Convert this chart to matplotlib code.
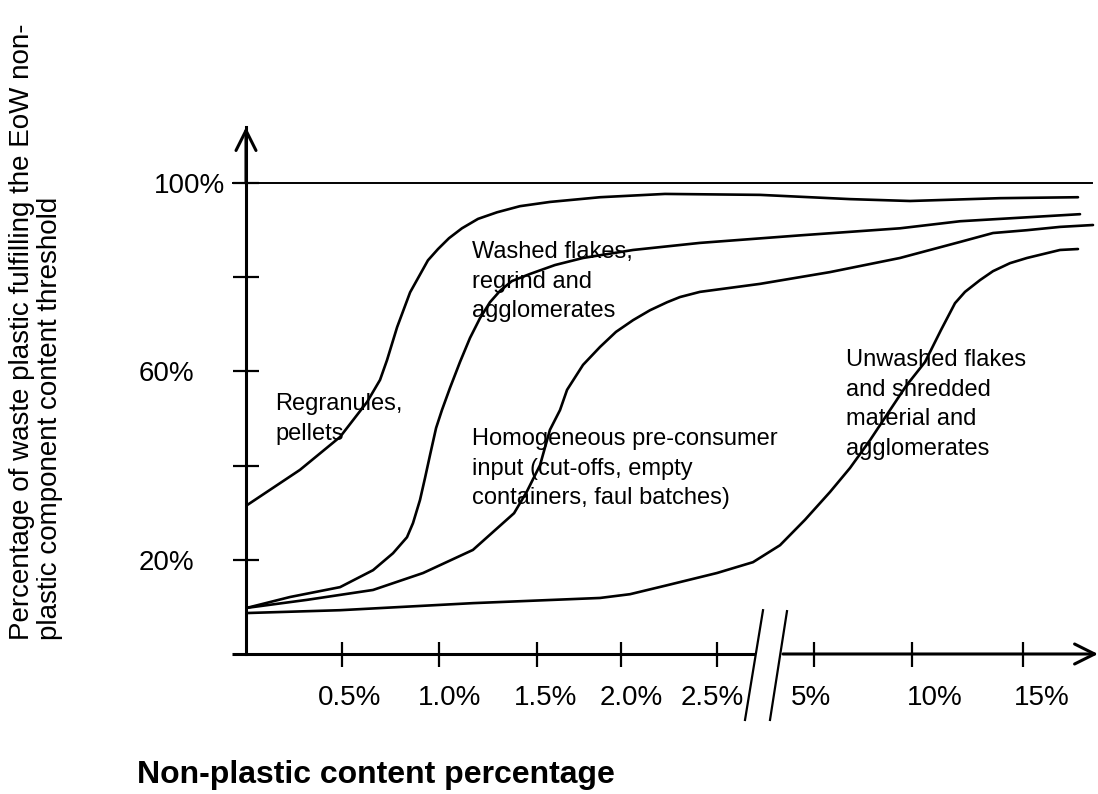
import numpy as np
import matplotlib
matplotlib.use("Agg")
import matplotlib.pyplot as plt
from matplotlib import transforms
from matplotlib.ticker import NullLocator

plt.rcParams['font.family'] = ['Liberation Sans', 'DejaVu Sans']

# ---- data (non-plastic content % -> % of waste fulfilling threshold) ----
regranules_x = [0.005, 0.281, 0.490, 0.629, 0.696, 0.732, 0.784, 0.851, 0.943, 0.995,
                1.051, 1.117, 1.199, 1.296, 1.413, 1.577, 1.875, 2.229, 3.608, 6.837,
                9.898, 13.964, 17.477]
regranules_y = [31.6, 39.1, 46.1, 53.5, 58.2, 62.4, 69.4, 76.8, 83.6, 86.0,
                88.3, 90.4, 92.4, 93.8, 95.1, 96.0, 97.0, 97.7, 97.5, 96.6,
                96.2, 96.8, 97.0]

washed_x = [0.005, 0.229, 0.490, 0.660, 0.763, 0.835, 0.866, 0.902, 0.928, 0.954,
            0.985, 1.015, 1.056, 1.107, 1.158, 1.209, 1.260, 1.311, 1.372, 1.464,
            1.607, 1.774, 2.063, 2.411, 4.639, 9.388, 12.162, 17.568]
washed_y = [9.8, 12.1, 14.2, 17.8, 21.4, 24.8, 27.8, 32.7, 37.4, 42.3,
            48.0, 51.8, 56.5, 62.0, 67.1, 71.3, 74.7, 77.1, 79.2, 80.7,
            82.6, 84.1, 85.8, 87.3, 88.9, 90.4, 91.9, 93.4]

homog_x = [0.005, 0.318, 0.660, 0.918, 1.173, 1.383, 1.447, 1.518, 1.577, 1.637,
           1.679, 1.774, 1.875, 1.970, 2.063, 2.151, 2.240, 2.307, 2.411, 3.608,
           5.816, 9.388, 12.162, 13.649, 15.180, 16.667, 18.153]
homog_y = [9.8, 11.5, 13.6, 17.2, 22.1, 29.9, 34.4, 40.1, 47.6, 51.8,
           56.1, 61.4, 65.2, 68.4, 70.9, 73.0, 74.7, 75.8, 76.9, 78.6,
           81.1, 84.1, 87.5, 89.4, 90.0, 90.7, 91.1]

unwashed_x = [0.005, 0.490, 1.173, 1.875, 2.047, 2.240, 2.5, 3.428, 4.124, 4.768,
              5.816, 6.837, 7.857, 8.878, 9.694, 10.586, 11.306, 11.937, 12.387,
              13.063, 13.649, 14.414, 15.180, 16.667, 17.477]
unwashed_y = [8.7, 9.3, 10.8, 11.9, 12.7, 14.6, 17.2, 19.5, 23.1, 28.5,
              34.4, 39.5, 45.4, 51.8, 56.9, 62.0, 68.8, 74.5, 76.9,
              79.4, 81.3, 83.0, 84.1, 85.8, 86.0]

x_ticks = [0.5, 1.0, 1.5, 2.0, 2.5, 5, 10, 15]
x_labels = ['0.5%', '1.0%', '1.5%', '2.0%', '2.5%', '5%', '10%', '15%']
y_ticks = [20, 60, 100]
y_labels = ['20%', '60%', '100%']
y_minor = [40, 80]

# broken x axis: piecewise mapping of % to drawing position
pct_knots = np.array([-1, 0, 0.5, 1.0, 1.5, 2.0, 2.5, 5, 10, 15, 30])
pos_knots = np.array([-192, 0, 96, 193, 291, 375, 471, 568, 666, 777, 1110])


def fwd(x):
    return np.interp(x, pct_knots, pos_knots)


def inv(p):
    return np.interp(p, pos_knots, pct_knots)


W, H = 1098, 794
fig = plt.figure(figsize=(W / 100, H / 100), dpi=100)
ax = fig.add_axes([232 / W, 140 / H, 866 / W, 534 / H])
ax.set_xscale('function', functions=(fwd, inv))
xmin, xmax = float(inv(-14)), float(inv(852))
ax.set_xlim(xmin, xmax)
ax.set_ylim(0, 113.4)

for s in ['top', 'right', 'bottom']:
    ax.spines[s].set_visible(False)
ax.spines['left'].set_position(('data', 0))
ax.spines['left'].set_bounds(0, 111.9)
ax.spines['left'].set_linewidth(2.2)

ax.set_xticks(x_ticks, x_labels)
ax.xaxis.set_minor_locator(NullLocator())
ax.set_yticks(y_ticks, y_labels)
ax.set_yticks(y_minor, minor=True)
ax.tick_params(axis='x', direction='inout', length=18, width=1.6, pad=13, labelsize=20)
ax.tick_params(axis='y', which='both', direction='inout', length=19, width=1.6, pad=28, labelsize=20)

# labels in the original are not quite centred on their ticks
x_shift = [8, 11, 9, 10, -5, -3, 23, 19]
for lab, dx in zip(ax.get_xticklabels(), x_shift):
    lab.set_transform(lab.get_transform() + transforms.ScaledTranslation(dx / 100, 0, fig.dpi_scale_trans))
lab = ax.get_yticklabels()[2]
lab.set_transform(lab.get_transform() + transforms.ScaledTranslation(0.31, 0, fig.dpi_scale_trans))

# axes lines with arrows
arr = dict(arrowstyle='->', lw=2.2, mutation_scale=36, shrinkA=0, shrinkB=0, color='black')
ax.annotate('', xy=(0, 111.9), xytext=(0, 100), arrowprops=arr, annotation_clip=False)
brk_lo, brk_hi = 3.479, 4.201
ax.plot([xmin, brk_lo], [0, 0], color='black', lw=2.2, clip_on=False, solid_capstyle='butt')
ax.annotate('', xy=(1, 0), xycoords='axes fraction', xytext=(brk_hi, 0), textcoords='data',
            arrowprops=arr, annotation_clip=False)
# break marks
ax.plot([3.222, 3.686], [-14.0, 9.3], color='black', lw=1.6, clip_on=False)
ax.plot([3.866, 4.304], [-14.0, 9.1], color='black', lw=1.6, clip_on=False)

ax.axhline(100, xmin=0, xmax=(1092 - 232) / 866, color='black', lw=1.4)

for xs, ys in [(regranules_x, regranules_y), (washed_x, washed_y),
               (homog_x, homog_y), (unwashed_x, unwashed_y)]:
    ax.plot(xs, ys, color='black', lw=1.9, clip_on=False,
            solid_capstyle='round', solid_joinstyle='round')


def px(x, y):
    return x / W, 1 - y / H


notes = [
    (275, 393, 'Regranules,\npellets'),
    (472, 241, 'Washed flakes,\nregrind and\nagglomerates'),
    (472, 428, 'Homogeneous pre-consumer\ninput (cut-offs, empty\ncontainers, faul batches)'),
    (846, 349, 'Unwashed flakes\nand shredded\nmaterial and\nagglomerates'),
]
for x, y, t in notes:
    fig.text(*px(x, y), t, ha='left', va='top', fontsize=17, linespacing=1.45)

fig.text(*px(36, 332), 'Percentage of waste plastic fulfilling the EoW non-\n'
         'plastic component content threshold', rotation=90, ha='center', va='center',
         multialignment='left', fontsize=20, linespacing=1.1)
fig.text(*px(376, 775), 'Non-plastic content percentage', ha='center', va='center',
         fontsize=23, fontweight='bold')

fig.savefig('out.png', dpi=100)
